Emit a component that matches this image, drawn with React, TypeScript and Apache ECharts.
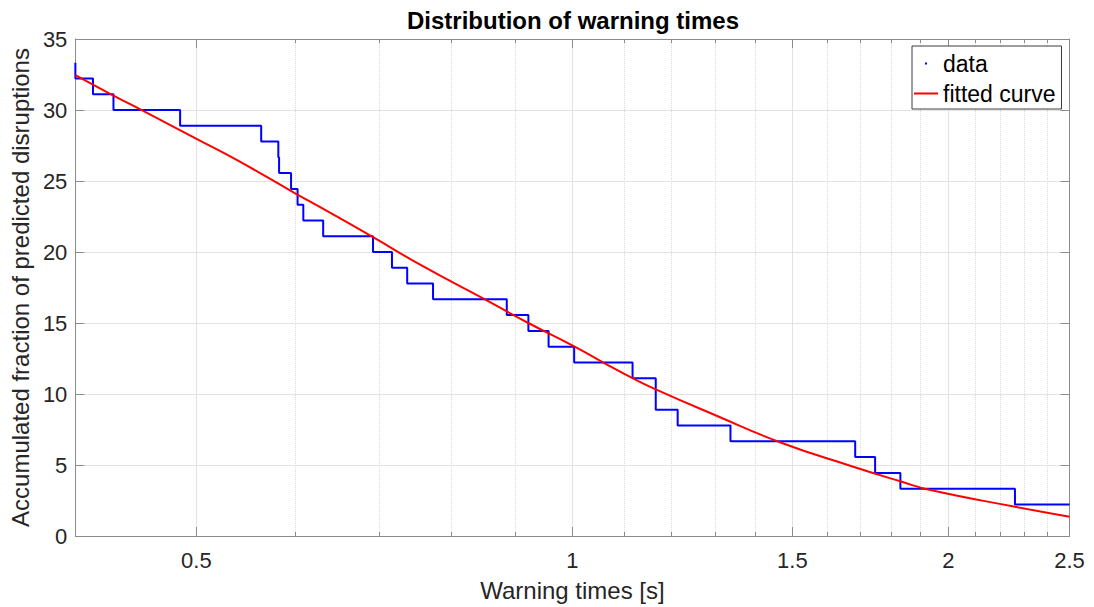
import React, { useEffect, useRef } from 'react';
import * as echarts from 'echarts';

// Step data (warning time [s], accumulated fraction [%])
const stepTimes = [0.4, 0.4, 0.4132, 0.4291, 0.4852, 0.5634, 0.5815, 0.5823, 0.5953, 0.6025, 0.6089, 0.6316, 0.6924, 0.717, 0.7374, 0.7734, 0.886, 0.922, 0.957, 1.0032, 1.1172, 1.166, 1.166, 1.2141, 1.3382, 1.6841, 1.7471, 1.8304, 2.2609, 2.5];
const stepValues = [33.33, 32.22, 31.11, 30.0, 28.89, 27.78, 26.67, 25.56, 24.44, 23.33, 22.22, 21.11, 20.0, 18.89, 17.78, 16.67, 15.56, 14.44, 13.33, 12.22, 11.11, 10.0, 8.89, 7.78, 6.67, 5.56, 4.44, 3.33, 2.22, 2.22];

// Fitted curve readings
const fitTimes = [0.4, 0.4291, 0.4541, 0.5001, 0.5381, 0.6008, 0.6328, 0.6924, 0.759, 0.8474, 0.922, 1.0032, 1.0594, 1.1172, 1.166, 1.3002, 1.4696, 1.6709, 1.8304, 1.9346, 2.2609, 2.5];
const fitValues = [32.46, 31.02, 29.9, 27.97, 26.5, 24.1, 23.0, 21.04, 19.0, 16.75, 15.0, 13.35, 12.2, 11.12, 10.33, 8.52, 6.57, 4.93, 3.85, 3.24, 2.06, 1.36];

// Axis ticks
const majorXTicks = [0.5, 1, 1.5, 2, 2.5];
const minorXTicks = [0.6, 0.7, 0.8, 0.9, 1.1, 1.2, 1.3, 1.4, 1.6, 1.7, 1.8, 1.9, 2.1, 2.2, 2.3, 2.4];
const yMin = 0;
const yMax = 35;
const yStep = 5;

export default function App() {
  const ref = useRef<HTMLDivElement>(null);

  useEffect(() => {
    const chart = echarts.init(ref.current as HTMLDivElement, null, { renderer: 'svg' });
    const font = "'Liberation Sans', Arial, Helvetica, sans-serif";
    const axisColor = '#8c8c8c';
    const textColor = '#262626';
    const majorGrid = '#e2e2e2';
    const minorGrid = '#dadada';

    const logBase = { type: 'log', logBase: 10, min: 0.4, max: 2.5, gridIndex: 0 };

    const option: any = {
      animation: false,
      backgroundColor: '#ffffff',
      title: {
        text: 'Distribution of warning times',
        left: 407,
        top: 8,
        padding: 0,
        textStyle: { fontSize: 24, fontWeight: 'bold', color: '#000', fontFamily: font },
      },
      legend: {
        left: 912,
        top: 46,
        orient: 'vertical',
        padding: [6, 6, 4, 2],
        itemGap: 7,
        itemWidth: 24,
        itemHeight: 12,
        borderColor: '#3c3c3c',
        borderWidth: 1,
        backgroundColor: '#ffffff',
        selectedMode: false,
        itemStyle: { borderWidth: 0 },
        textStyle: { fontSize: 23, color: '#000', fontFamily: font },
        data: [
          { name: 'data', icon: 'path://M0,0M24,12M11,5L13,5L13,7L11,7Z' },
          { name: 'fitted curve', icon: 'path://M0,0M24,12M0,5L24,5L24,7L0,7Z' },
        ],
      },
      grid: { left: 71, top: 39, width: 998.5, height: 497, containLabel: false },
      xAxis: [
        {
          ...logBase,
          position: 'bottom',
          name: 'Warning times [s]',
          nameLocation: 'middle',
          nameGap: 42,
          nameTextStyle: { fontSize: 24, color: textColor, fontFamily: font },
          axisLine: { show: true, onZero: false, lineStyle: { color: axisColor, width: 1 } },
          axisTick: { show: true, inside: true, length: 9, customValues: majorXTicks, lineStyle: { color: axisColor } },
          axisLabel: {
            show: true,
            customValues: majorXTicks,
            margin: 13,
            fontSize: 22,
            color: textColor,
            fontFamily: font,
            formatter: (v: number) => String(Math.round(v * 10) / 10),
          },
          splitLine: { show: true, lineStyle: { color: majorGrid, width: 1, type: 'solid' } },
          minorTick: { show: false },
        },
        {
          ...logBase,
          position: 'bottom',
          axisLine: { show: false, onZero: false },
          axisTick: { show: true, inside: true, length: 4, customValues: minorXTicks, lineStyle: { color: axisColor } },
          axisLabel: { show: false },
          splitLine: { show: true, lineStyle: { color: minorGrid, width: 1, type: 'dotted' } },
        },
        {
          ...logBase,
          position: 'top',
          axisLine: { show: true, onZero: false, lineStyle: { color: axisColor, width: 1 } },
          axisTick: { show: true, inside: true, length: 9, customValues: majorXTicks, lineStyle: { color: axisColor } },
          axisLabel: { show: false },
          splitLine: { show: false },
        },
        {
          ...logBase,
          position: 'top',
          axisLine: { show: false, onZero: false },
          axisTick: { show: true, inside: true, length: 4, customValues: minorXTicks, lineStyle: { color: axisColor } },
          axisLabel: { show: false },
          splitLine: { show: false },
        },
      ],
      yAxis: [
        {
          type: 'value',
          min: yMin,
          max: yMax,
          interval: yStep,
          position: 'left',
          name: 'Accumulated fraction of predicted disruptions',
          nameLocation: 'middle',
          nameRotate: 90,
          nameGap: 36,
          nameTextStyle: { fontSize: 24, color: textColor, fontFamily: font },
          axisLine: { show: true, onZero: false, lineStyle: { color: axisColor, width: 1 } },
          axisTick: { show: true, inside: true, length: 9, lineStyle: { color: axisColor } },
          axisLabel: { show: true, margin: 8, fontSize: 22, color: textColor, fontFamily: font },
          splitLine: { show: true, lineStyle: { color: majorGrid, width: 1 } },
        },
        {
          type: 'value',
          min: yMin,
          max: yMax,
          interval: yStep,
          position: 'right',
          axisLine: { show: true, onZero: false, lineStyle: { color: axisColor, width: 1 } },
          axisTick: { show: true, inside: true, length: 9, lineStyle: { color: axisColor } },
          axisLabel: { show: false },
          splitLine: { show: false },
        },
      ],
      series: [
        {
          name: 'data',
          type: 'line',
          xAxisIndex: 0,
          yAxisIndex: 0,
          step: 'end',
          symbol: 'none',
          showSymbol: false,
          color: '#0000ff',
          itemStyle: { color: '#0000ff' },
          lineStyle: { color: '#0000ff', width: 2 },
          data: stepTimes.map((t, i) => [t, stepValues[i]]),
          z: 3,
        },
        {
          name: 'fitted curve',
          type: 'line',
          xAxisIndex: 0,
          yAxisIndex: 0,
          smooth: 0.5,
          symbol: 'none',
          showSymbol: false,
          color: '#ff0000',
          itemStyle: { color: '#ff0000' },
          lineStyle: { color: '#ff0000', width: 2 },
          data: fitTimes.map((t, i) => [t, fitValues[i]]),
          z: 4,
        },
      ],
    };

    chart.setOption(option);
    return () => {
      chart.dispose();
    };
  }, []);

  return (
    <div
      ref={ref}
      style={{ position: 'fixed', left: 0, top: 0, width: 1094, height: 607, background: '#fff' }}
    />
  );
}
